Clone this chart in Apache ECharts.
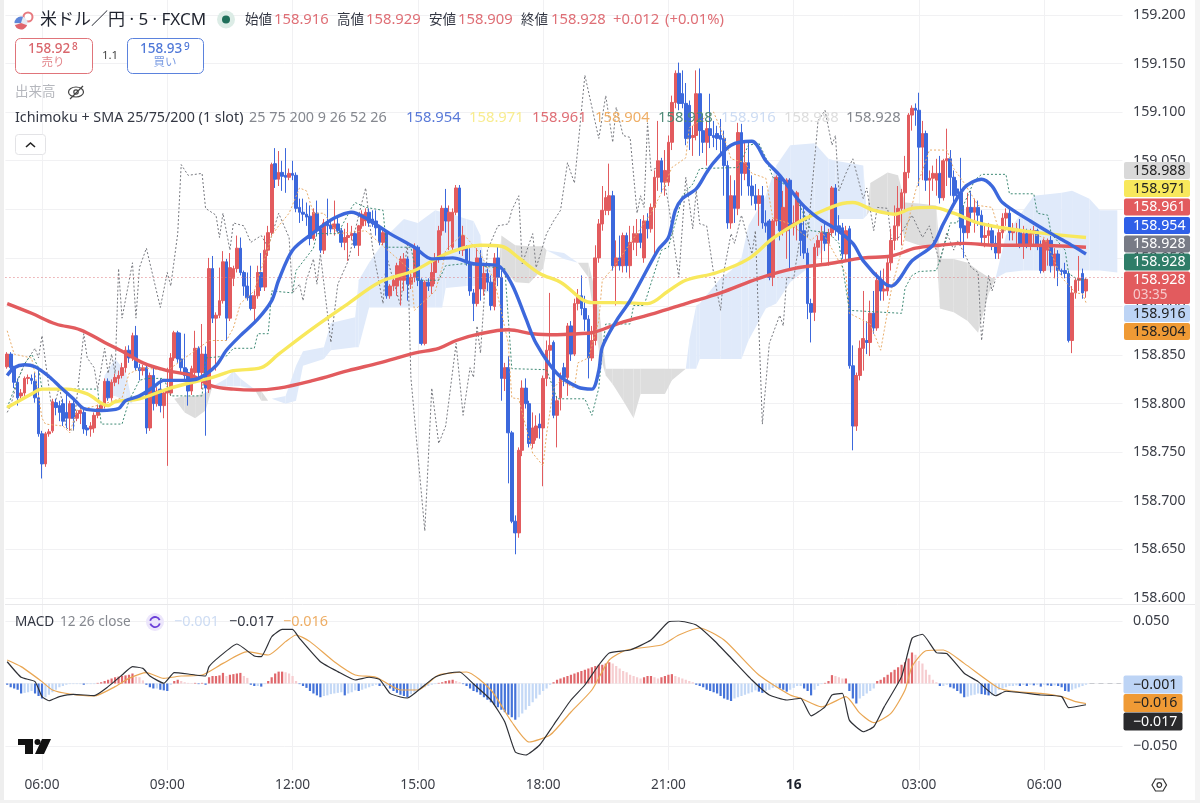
<!DOCTYPE html>
<html>
<head>
<meta charset="utf-8">
<title>米ドル／円</title>
<style>html,body{margin:0;padding:0;background:#fff}#chart_main{width:1200px;height:803px}</style>
<script src="https://cdn.jsdelivr.net/npm/echarts@6/dist/echarts.min.js"></script>
</head>
<body>
<div id="chart_main"></div>
<script>
// 5分足 [open, close, low, high]、3時間ごとのまとまり
let ohlc_0505 = [
[158.838,158.851,158.836,158.853],[158.851,158.837,158.831,158.853],[158.837,158.822,158.816,158.839],[158.822,158.806,158.798,158.826],[158.808,158.811,158.805,158.815],[158.811,158.826,158.808,158.828],[158.826,158.827,158.820,158.830],[158.826,158.824,158.820,158.830],[158.823,158.806,158.801,158.832],[158.806,158.769,158.766,158.836],
[158.769,158.738,158.723,158.772],[158.738,158.769,158.735,158.771],[158.769,158.771,158.766,158.774],[158.772,158.802,158.770,158.805],[158.801,158.796,158.788,158.805],[158.798,158.791,158.782,158.803],[158.800,158.782,158.777,158.805],[158.791,158.785,158.775,158.810],[158.785,158.800,158.772,158.803],[158.800,158.785,158.774,158.803],
[158.785,158.790,158.782,158.793],[158.790,158.793,158.779,158.797],[158.791,158.774,158.769,158.795],[158.775,158.773,158.767,158.778],[158.774,158.777,158.766,158.781],[158.775,158.788,158.770,158.791],[158.788,158.795,158.785,158.799],[158.795,158.798,158.793,158.802],[158.798,158.823,158.795,158.826],[158.823,158.806,158.803,158.826],
[158.806,158.822,158.803,158.825],[158.822,158.827,158.818,158.831],[158.826,158.829,158.820,158.834],[158.829,158.837,158.826,158.842],[158.837,158.855,158.832,158.859],[158.855,158.847,158.842,158.860],[158.847,158.870,158.844,158.873],[158.870,158.837,158.834,158.880],[158.837,158.834,158.824,158.841],[158.834,158.837,158.829,158.840],
[158.837,158.775,158.769,158.839],[158.775,158.829,158.772,158.832],[158.829,158.800,158.793,158.837],[158.800,158.813,158.797,158.817],[158.815,158.798,158.791,158.826],[158.798,158.811,158.785,158.815]];
let ohlc_0900 = [
[158.811,158.815,158.736,158.837],[158.811,158.847,158.808,158.852],[158.847,158.873,158.844,158.875],[158.873,158.846,158.842,158.875],[158.846,158.837,158.832,158.873],[158.837,158.829,158.824,158.872],[158.832,158.813,158.798,158.836],[158.813,158.836,158.809,158.839],[158.832,158.857,158.828,158.875],[158.857,158.832,158.826,158.859],
[158.832,158.851,158.815,158.882],[158.851,158.816,158.767,158.859],[158.815,158.939,158.811,158.950],[158.939,158.888,158.883,158.952],[158.888,158.891,158.834,158.894],[158.891,158.906,158.888,158.940],[158.906,158.946,158.903,158.957],[158.946,158.888,158.865,158.949],[158.888,158.940,158.885,158.955],[158.929,158.939,158.921,158.942],
[158.939,158.960,158.935,158.973],[158.960,158.935,158.932,158.971],[158.935,158.921,158.911,158.937],[158.921,158.909,158.906,158.935],[158.911,158.898,158.896,158.942],[158.898,158.911,158.885,158.916],[158.911,158.935,158.908,158.942],[158.935,158.920,158.916,158.955],[158.920,158.958,158.916,158.973],[158.958,158.976,158.952,158.983],
[158.976,159.046,158.973,159.048],[159.047,159.031,159.022,159.063],[159.031,159.038,159.024,159.060],[159.038,159.034,159.019,159.050],[159.035,159.033,159.017,159.063],[159.033,159.037,159.030,159.042]];
let ohlc_1200 = [
[159.037,159.035,159.030,159.050],[159.035,159.001,158.997,159.038],[159.002,158.997,158.986,159.011],[158.997,158.995,158.988,159.011],[158.995,158.992,158.983,159.007],[158.993,158.970,158.963,159.004],[158.970,158.997,158.968,159.001],[158.996,158.978,158.973,159.009],[158.980,158.958,158.955,158.982],[158.958,158.986,158.954,158.990],
[158.986,158.983,158.973,159.011],[158.984,158.980,158.976,158.990],[158.980,158.985,158.973,159.009],[158.985,158.978,158.976,158.994],[158.978,158.966,158.961,158.981],[158.966,158.971,158.958,158.980],[158.971,158.973,158.947,158.986],[158.973,158.975,158.968,158.983],[158.975,158.963,158.960,158.978],[158.963,158.983,158.952,158.984],
[158.983,158.995,158.980,158.999],[158.988,158.997,158.983,159.001],[158.997,158.986,158.982,159.001],[158.990,158.985,158.982,158.999],[158.988,158.981,158.973,158.999],[158.981,158.966,158.963,158.984],[158.966,158.976,158.963,158.980],[158.976,158.911,158.908,158.978],[158.911,158.921,158.908,158.923],[158.921,158.927,158.916,158.932],
[158.921,158.942,158.911,158.945],[158.927,158.949,158.901,158.952],[158.927,158.949,158.916,158.955],[158.949,158.923,158.906,158.951],[158.923,158.930,158.918,158.937],[158.930,158.961,158.925,158.965]];
let ohlc_1500 = [
[158.961,158.927,158.921,158.963],[158.927,158.862,158.860,158.929],[158.862,158.925,158.860,158.927],[158.925,158.921,158.916,158.929],[158.921,158.935,158.913,158.947],[158.935,158.949,158.923,158.955],[158.949,158.978,158.945,158.983],[158.978,159.001,158.973,159.004],[159.001,158.988,158.976,159.021],[158.988,158.997,158.958,159.004],
[158.961,158.997,158.958,159.001],[158.997,159.022,158.994,159.025],[159.022,158.958,158.954,159.025],[158.958,158.973,158.952,158.983],[158.961,158.945,158.942,158.963],[158.945,158.916,158.911,158.960],[158.914,158.903,158.885,158.918],[158.903,158.950,158.900,158.960],[158.950,158.918,158.906,158.958],[158.918,158.934,158.911,158.942],
[158.934,158.925,158.916,158.939],[158.925,158.901,158.896,158.932],[158.900,158.950,158.896,158.955],[158.950,158.930,158.921,158.963],[158.930,158.826,158.803,158.937],[158.826,158.837,158.813,158.842],[158.837,158.770,158.718,158.849],[158.770,158.679,158.677,158.772],[158.679,158.667,158.645,158.685],[158.667,158.752,158.662,158.755],
[158.752,158.816,158.746,158.824],[158.816,158.800,158.795,158.826],[158.800,158.759,158.755,158.803],[158.759,158.775,158.754,158.791],[158.765,158.777,158.762,158.788],[158.779,158.775,158.764,158.790]];
let ohlc_1800 = [
[158.775,158.826,158.715,158.829],[158.826,158.855,158.818,158.865],[158.855,158.860,158.839,158.914],[158.863,158.788,158.785,158.865],[158.788,158.803,158.755,158.808],[158.806,158.827,158.793,158.832],[158.837,158.827,158.818,158.842],[158.827,158.880,158.808,158.883],[158.880,158.851,158.844,158.885],[158.851,158.903,158.849,158.908],
[158.903,158.911,158.896,158.918],[158.911,158.898,158.891,158.932],[158.898,158.887,158.875,158.911],[158.887,158.847,158.826,158.891],[158.847,158.865,158.844,158.880],[158.865,158.950,158.860,158.963],[158.950,158.985,158.945,158.990],[158.985,158.999,158.978,159.024],[158.999,159.012,158.994,159.019],[158.999,159.014,158.994,159.047],
[159.014,158.942,158.937,159.019],[158.942,158.950,158.901,158.968],[158.950,158.942,158.937,158.973],[158.942,158.973,158.935,158.976],[158.973,158.942,158.935,158.976],[158.942,158.966,158.929,158.983],[158.966,158.975,158.958,158.983],[158.966,158.975,158.952,158.990],[158.975,158.966,158.960,158.990],[158.950,158.988,158.945,158.994],
[158.988,158.980,158.970,158.996],[158.980,159.002,158.976,159.006],[159.002,159.033,158.952,159.040],[159.033,159.050,159.019,159.091],[159.050,159.028,159.017,159.053],[159.028,159.040,159.014,159.061]];
let ohlc_2100 = [
[159.028,159.069,159.024,159.076],[159.069,159.110,159.061,159.117],[159.110,159.140,159.104,159.143],[159.140,159.109,159.102,159.151],[159.119,159.109,159.104,159.143],[159.109,159.073,159.066,159.130],[159.107,159.073,159.061,159.112],[159.074,159.076,159.055,159.086],[159.076,159.119,159.071,159.143],[159.119,159.081,159.055,159.145],
[159.081,159.069,159.058,159.097],[159.069,159.083,159.045,159.091],[159.083,159.076,159.063,159.119],[159.076,159.074,159.064,159.091],[159.078,159.073,159.061,159.086],[159.076,159.072,159.055,159.093],[159.073,159.045,159.014,159.081],[159.045,158.986,158.980,159.050],[158.986,159.014,158.980,159.035],[159.014,159.001,158.986,159.030],
[159.001,159.079,158.994,159.089],[159.079,159.037,159.014,159.088],[159.037,159.048,159.030,159.071],[159.048,159.024,159.014,159.071],[159.024,159.014,159.004,159.035],[159.014,159.006,158.999,159.026],[159.006,159.014,158.983,159.021],[159.014,158.986,158.980,159.024],[158.986,158.983,158.976,158.999],[158.988,158.930,158.927,158.990],
[158.930,158.988,158.921,158.990],[158.988,159.033,158.983,159.035],[159.033,158.978,158.968,159.035],[158.978,159.002,158.973,159.019],[158.978,159.030,158.949,159.032],[159.030,158.983,158.937,159.032]];
let ohlc_0000 = [
[158.983,158.986,158.973,159.004],[158.986,159.017,158.968,159.019],[158.986,158.968,158.952,159.009],[158.978,158.955,158.949,159.004],[158.955,158.903,158.887,158.960],[158.903,158.894,158.863,158.908],[158.894,158.961,158.885,158.965],[158.961,158.968,158.952,158.973],[158.968,158.976,158.945,158.983],[158.976,158.965,158.957,158.986],
[158.965,158.976,158.942,158.980],[158.976,159.022,158.972,159.024],[159.022,158.981,158.973,159.026],[158.983,158.978,158.968,158.994],[158.981,158.954,158.949,158.986],[158.954,158.978,158.947,158.983],[158.980,158.839,158.836,158.983],[158.839,158.777,158.752,158.860],[158.777,158.829,158.772,158.832],[158.829,158.857,158.824,158.865],
[158.857,158.867,158.834,158.916],[158.865,158.863,158.851,158.885],[158.863,158.893,158.849,158.906],[158.893,158.878,158.872,158.916],[158.878,158.927,158.875,158.935],[158.927,158.916,158.906,158.937],[158.916,158.918,158.906,158.939],[158.916,158.945,158.911,158.952],[158.945,158.968,158.937,158.980],[158.968,158.983,158.958,159.004],
[158.983,159.001,158.968,159.024],[159.001,159.017,158.963,159.021],[159.017,159.038,158.999,159.055],[159.038,159.097,159.032,159.099],[159.097,159.104,159.081,159.107],[159.104,159.102,159.086,159.109]];
let ohlc_0300 = [
[159.102,159.064,159.024,159.120],[159.064,159.078,159.030,159.091],[159.078,159.030,159.019,159.081],[159.030,159.032,159.004,159.040],[159.032,159.037,159.019,159.045],[159.030,159.037,159.014,159.052],[159.037,159.012,159.006,159.055],[159.012,159.050,159.009,159.052],[159.050,159.052,159.024,159.083],[159.052,159.033,159.014,159.061],
[159.033,159.014,159.004,159.040],[159.021,159.016,159.009,159.030],[159.017,158.981,158.963,159.053],[158.983,158.976,158.950,159.004],[158.976,159.002,158.970,159.017],[159.002,158.997,158.983,159.019],[158.997,159.002,158.976,159.011],[159.002,158.994,158.983,159.009],[158.994,158.971,158.963,158.999],[158.971,158.973,158.961,158.986],
[158.973,158.978,158.963,158.986],[158.978,158.965,158.958,158.983],[158.965,158.955,158.949,158.973],[158.955,158.976,158.949,158.980],[158.976,158.991,158.970,158.996],[158.991,158.996,158.983,159.001],[158.996,158.976,158.968,159.001],[158.976,158.978,158.968,158.986],[158.978,158.980,158.963,158.986],[158.976,158.963,158.960,158.990],
[158.963,158.975,158.949,158.983],[158.975,158.963,158.960,158.980],[158.963,158.976,158.958,158.980],[158.975,158.978,158.963,158.983],[158.978,158.963,158.958,158.980],[158.963,158.937,158.934,158.968]];
let ohlc_0600 = [
[158.937,158.968,158.935,158.970],[158.958,158.968,158.942,158.970],[158.968,158.942,158.935,158.973],[158.942,158.954,158.929,158.960],[158.954,158.937,158.921,158.958],[158.937,158.936,158.932,158.939],[158.937,158.934,158.929,158.945],[158.934,158.865,158.863,158.937],[158.865,158.914,158.852,158.921],[158.914,158.927,158.908,158.929],
[158.927,158.929,158.916,158.952],[158.934,158.914,158.908,158.939],[158.916,158.928,158.909,158.929]];

// 移動平均 [足番号, 値]
let sma25 = [[0,158.829],[2,158.837],[5,158.840],[8,158.838],[12,158.828],[15,158.818],[19,158.805],[22,158.795],[27,158.793],[32,158.795],[34,158.803],[38,158.808],[42,158.817],[45,158.824],[51,158.824],[55,158.826],[60,158.839],[63,158.855],[67,158.870],[72,158.887],[76,158.906],[78,158.927],[82,158.958],[88,158.976],[94,158.991],[99,158.997],[103,158.991],[110,158.975],[117,158.961],[122,158.949],[128,158.950],[134,158.944],[141,158.942],[145,158.923],[149,158.888],[152,158.862],[158,158.831],[164,158.817],[168,158.815],[170,158.834],[171,158.858],[175,158.885],[179,158.906],[187,158.958],[190,158.971],[192,158.999],[194,159.011],[198,159.021],[201,159.038],[203,159.048],[208,159.066],[214,159.070],[218,159.050],[222,159.035],[228,159.007],[233,158.991],[238,158.980],[243,158.965],[246,158.947],[252,158.924],[254,158.921],[260,158.947],[266,158.963],[269,158.985],[275,159.022],[280,159.031],[283,159.024],[286,159.007],[294,158.988],[300,158.975],[305,158.965],[310,158.954]];
let sma75 = [[0,158.796],[7,158.810],[10,158.815],[17,158.815],[23,158.810],[29,158.798],[31,158.802],[38,158.805],[46,158.815],[52,158.821],[59,158.827],[65,158.834],[73,158.837],[78,158.851],[88,158.878],[98,158.903],[107,158.925],[117,158.937],[126,158.954],[136,158.963],[142,158.962],[147,158.950],[153,158.934],[159,158.925],[168,158.904],[176,158.904],[184,158.903],[190,158.916],[195,158.927],[204,158.935],[213,158.949],[220,158.970],[228,158.988],[236,159.001],[240,159.006],[243,159.007],[249,158.999],[255,158.995],[260,159.001],[266,159.002],[272,158.996],[279,158.986],[286,158.981],[296,158.976],[310,158.971]];
let sma200 = [[0,158.903],[7,158.893],[14,158.882],[21,158.876],[28,158.863],[34,158.852],[39,158.842],[46,158.834],[53,158.829],[59,158.818],[65,158.815],[71,158.814],[78,158.816],[88,158.824],[98,158.834],[107,158.842],[117,158.852],[124,158.857],[129,158.865],[136,158.872],[144,158.876],[151,158.872],[158,158.871],[164,158.872],[168,158.873],[176,158.883],[186,158.893],[195,158.903],[205,158.914],[216,158.929],[226,158.939],[236,158.944],[246,158.950],[254,158.952],[261,158.960],[268,158.963],[275,158.965],[284,158.963],[294,158.963],[310,158.961]];

// 一目均衡表
let chikou = [[0,158.791],[1,158.798],[3,158.824],[5,158.841],[8,158.857],[9,158.847],[10,158.870],[13,158.790],[15,158.818],[17,158.775],[19,158.772],[22,158.872],[23,158.847],[25,158.837],[26,158.815],[28,158.857],[29,158.831],[30,158.851],[31,158.831],[32,158.939],[33,158.888],[36,158.945],[37,158.888],[38,158.940],[40,158.960],[44,158.899],[46,158.935],[47,158.921],[49,158.975],[50,159.046],[52,159.035],[56,159.037],[57,159.001],[60,158.994],[61,158.971],[62,158.996],[64,158.958],[65,158.986],[68,158.983],[70,158.966],[73,158.973],[75,158.961],[78,158.996],[81,158.971],[82,158.914],[84,158.923],[85,158.906],[86,158.927],[88,158.949],[89,158.923],[90,158.954],[93,158.863],[95,158.923],[98,158.947],[101,158.994],[103,159.022],[105,158.960],[108,158.903],[109,158.952],[113,158.901],[115,158.966],[116,158.827],[120,158.669],[122,158.816],[124,158.759],[126,158.777],[129,158.862],[131,158.788],[133,158.837],[134,158.827],[135,158.880],[136,158.852],[138,158.958],[141,158.983],[144,158.985],[145,158.999],[147,159.014],[148,158.944],[151,158.975],[152,158.940],[155,158.975],[157,158.988],[159,158.999],[161,159.048],[163,159.027],[166,159.138],[170,159.073],[172,159.117],[174,159.069],[175,159.105],[177,159.076],[179,159.074],[181,158.996],[182,159.014],[183,159.002],[184,159.089],[185,159.040],[188,159.045],[190,159.006],[193,158.930],[195,159.033],[197,158.980],[198,159.019],[199,158.985],[201,158.983],[203,158.934],[205,158.896],[206,158.937],[208,158.975],[209,158.965],[211,158.994],[214,158.954],[215,158.978],[217,158.779],[219,158.862],[222,158.891],[223,158.880],[224,158.930],[226,158.929],[229,158.999],[230,158.971],[233,159.091],[235,159.102],[237,159.066],[238,159.076],[239,159.019],[241,159.037],[243,159.052],[246,159.011],[247,159.022],[249,158.978],[250,159.002],[253,159.001],[254,158.970],[256,158.970],[260,158.994],[263,158.971],[265,158.983],[268,158.945],[270,158.976],[272,158.958],[273,158.968],[275,158.955],[277,158.940],[279,158.935],[280,158.865],[282,158.932],[283,158.916],[284,158.928]];
let tenkan = [[0,158.875],[2,158.851],[7,158.847],[8,158.831],[10,158.785],[11,158.779],[16,158.777],[18,158.770],[20,158.793],[28,158.800],[33,158.806],[35,158.831],[39,158.837],[46,158.834],[58,158.865],[63,158.865],[65,158.878],[67,158.903],[71,158.916],[75,158.961],[76,158.973],[78,158.983],[81,158.996],[84,159.022],[86,159.019],[88,158.996],[91,158.996],[95,158.975],[103,158.978],[116,158.937],[117,158.896],[123,158.916],[125,158.940],[126,158.958],[131,158.975],[136,158.954],[140,158.927],[144,158.862],[145,158.806],[147,158.805],[151,158.749],[154,158.736],[155,158.769],[157,158.816],[159,158.824],[163,158.816],[164,158.842],[167,158.847],[170,158.885],[171,158.927],[174,158.939],[185,158.996],[188,159.017],[191,159.043],[195,159.053],[196,159.084],[203,159.100],[206,159.074],[208,159.052],[212,159.048],[214,159.037],[218,159.032],[220,158.991],[225,158.985],[231,158.968],[234,158.978],[241,158.934],[242,158.893],[248,158.882],[251,158.855],[252,158.875],[254,158.916],[257,158.958],[261,159.019],[265,159.061],[270,159.061],[272,159.042],[275,159.027],[279,159.004],[283,159.002],[285,158.978],[288,158.978],[294,158.975],[298,158.971],[303,158.930],[307,158.914],[309,158.913],[310,158.904]];
let kijun = [[0,158.796],[3,158.824],[5,158.841],[7,158.851],[9,158.837],[10,158.815],[26,158.815],[27,158.779],[33,158.779],[35,158.803],[38,158.824],[40,158.826],[45,158.826],[47,158.808],[56,158.808],[57,158.847],[63,158.849],[65,158.857],[71,158.857],[72,158.872],[75,158.872],[76,158.916],[82,158.914],[83,158.937],[88,158.960],[89,158.975],[95,158.975],[99,159.002],[100,159.007],[103,159.002],[108,158.999],[109,158.961],[116,158.961],[118,158.927],[124,158.927],[126,158.942],[131,158.944],[143,158.939],[145,158.836],[155,158.835],[158,158.805],[166,158.805],[168,158.788],[170,158.816],[171,158.855],[172,158.882],[179,158.882],[180,158.901],[183,158.901],[188,158.958],[190,158.961],[193,158.999],[194,159.014],[197,159.026],[199,159.042],[210,159.043],[213,159.066],[216,159.068],[218,159.053],[220,159.033],[225,159.022],[228,159.002],[231,158.978],[236,158.976],[239,158.965],[242,158.896],[257,158.893],[258,158.919],[260,158.932],[262,158.936],[267,158.937],[270,158.971],[271,158.986],[273,158.986],[275,159.006],[278,159.030],[280,159.036],[287,159.036],[288,159.016],[295,159.016],[296,158.996],[299,158.994],[300,158.975],[304,158.958],[305,158.934],[308,158.927],[310,158.928]];

// 雲 [足番号, 先行A, 先行B]
let cloud = [[27,158.798,158.798],[28,158.829,158.808],[31,158.846,158.808],[34,158.834,158.803],[36,158.800,158.800],[48,158.805,158.805],[51,158.791,158.808],[54,158.785,158.808],[57,158.793,158.811],[59,158.818,158.818],[63,158.826,158.818],[65,158.834,158.818],[67,158.826,158.818],[71,158.815,158.815],[73,158.803,158.813],[75,158.803,158.803],[76,158.805,158.805],[80,158.808,158.800],[83,158.839,158.803],[85,158.854,158.839],[91,158.858,158.846],[93,158.883,158.855],[100,158.889,158.858],[101,158.927,158.858],[104,158.945,158.899],[110,158.976,158.899],[114,158.990,158.899],[118,158.986,158.899],[123,158.999,158.899],[125,158.997,158.899],[126,158.997,158.919],[132,158.990,158.921],[134,158.988,158.921],[136,158.973,158.921],[137,158.945,158.914],[140,158.942,158.916],[141,158.932,158.932],[142,158.942,158.973],[146,158.925,158.963],[150,158.924,158.962],[154,158.939,158.962],[155,158.958,158.958],[160,158.955,158.949],[164,158.945,158.945],[167,158.930,158.945],[170,158.855,158.901],[172,158.829,158.836],[174,158.820,158.836],[177,158.803,158.836],[180,158.785,158.836],[182,158.810,158.836],[189,158.810,158.836],[191,158.824,158.836],[195,158.836,158.836],[196,158.865,158.836],[198,158.901,158.836],[199,158.903,158.846],[205,158.929,158.846],[208,158.937,158.846],[211,158.950,158.846],[213,158.983,158.865],[218,159.014,158.898],[221,159.045,158.903],[225,159.066,158.925],[232,159.068,158.945],[236,159.052,158.968],[238,159.050,158.990],[246,159.045,158.990],[247,158.994,158.994],[248,158.999,159.027],[253,158.996,159.038],[256,158.996,159.035],[258,158.968,159.007],[262,158.963,159.006],[267,158.963,159.004],[268,158.898,158.949],[272,158.894,158.949],[276,158.885,158.945],[279,158.873,158.937],[282,158.913,158.930],[284,158.929,158.929],[287,158.973,158.935],[292,158.999,158.937],[295,159.014,158.937],[303,159.017,158.937],[306,159.019,158.937],[311,159.011,158.937],[314,158.999,158.937],[319,158.999,158.935]];

// MACD
let macdLine = [[0,0.0174],[4,0.005],[8,0.0015],[10,-0.0105],[12,-0.0138],[15,-0.0105],[19,-0.0087],[25,-0.0097],[29,-0.0025],[33,0.0068],[36,0.0135],[39,0.0121],[41,0.006],[45,0.0002],[48,0.0087],[52,0.0076],[54,0.0068],[57,0.006],[58,0.0135],[61,0.0215],[66,0.0316],[71,0.022],[73,0.0215],[76,0.0374],[79,0.0433],[82,0.0433],[84,0.0361],[90,0.0174],[95,0.0095],[100,0.0028],[104,0.005],[107,0.0033],[110,-0.0079],[113,-0.0108],[115,-0.0116],[120,-0.0012],[123,0.0052],[127,0.0084],[130,0.0092],[134,-0.0004],[139,-0.0132],[143,-0.0308],[146,-0.0548],[149,-0.0572],[153,-0.0492],[157,-0.0332],[162,-0.0132],[166,-0.0012],[170,0.0148],[173,0.0244],[179,0.0268],[185,0.0348],[190,0.0492],[193,0.05],[198,0.0468],[203,0.0348],[208,0.0204],[214,0.0028],[219,-0.0092],[224,-0.0132],[228,-0.0118],[231,-0.0259],[235,-0.0187],[237,-0.0092],[240,-0.0079],[242,-0.0293],[246,-0.0386],[249,-0.0346],[252,-0.0187],[257,0.0055],[260,0.0361],[263,0.0394],[267,0.0247],[270,0.024],[275,0.0082],[279,0.0015],[284,-0.0098],[287,-0.0062],[297,-0.0092],[303,-0.0105],[305,-0.0193],[310,-0.017]];
let macdSignal = [[0,0.0188],[4,0.0135],[10,0.0015],[13,-0.0052],[18,-0.0084],[25,-0.01],[31,-0.0025],[35,0.0041],[40,0.0087],[45,0.0041],[50,0.006],[56,0.0068],[62,0.0161],[69,0.0255],[75,0.0228],[80,0.0335],[83,0.0388],[87,0.0335],[94,0.0174],[100,0.0068],[106,0.005],[113,-0.0052],[118,-0.0052],[124,0.0068],[132,0.0092],[139,-0.0052],[145,-0.0308],[150,-0.0468],[156,-0.0412],[162,-0.0228],[168,-0.0052],[173,0.0188],[178,0.0268],[188,0.0308],[193,0.0388],[199,0.0444],[206,0.0348],[216,0.0068],[225,-0.0092],[228,-0.0118],[234,-0.0187],[237,-0.0155],[241,-0.0105],[245,-0.0237],[249,-0.0313],[254,-0.0237],[258,-0.0052],[260,0.0135],[264,0.0262],[269,0.0268],[275,0.0161],[285,-0.0038],[290,-0.0065],[297,-0.0079],[303,-0.0105],[307,-0.0145],[310,-0.016]];
let macdHist = [-0.001,-0.003,-0.004,-0.005,-0.008,-0.0075,-0.007,-0.006,-0.008,-0.01,
-0.012,-0.011,-0.009,-0.007,-0.005,-0.003,-0.002,-0.001,-0.0005,-0.0005,
-0.0005,-0.0005,-0.001,-0.0005,-0.0005,-0.0005,
0.0005,0.001,0.002,0.003,0.004,0.005,0.0055,0.006,0.0065,0.007,0.008,0.0055,0.005,0.0025,
-0.001,-0.003,-0.004,-0.004,-0.005,-0.0055,-0.006,-0.001,
0.002,0.003,0.002,0.001,0.0005,0.0003,0.0005,-0.0005,0.0005,-0.001,
0.005,0.006,0.006,0.0065,0.0085,0.006,0.007,0.0075,0.008,0.0085,0.006,0.0045,
-0.001,-0.002,-0.002,-0.0025,-0.0005,
0.002,0.005,0.008,0.0095,0.0095,0.009,0.008,0.006,0.002,
-0.0005,-0.002,-0.0035,-0.006,-0.008,-0.0095,-0.011,-0.01,-0.0095,-0.0085,-0.008,-0.0075,-0.007,
-0.0095,-0.008,-0.007,-0.0055,-0.006,-0.005,-0.004,-0.003,-0.002,-0.001,-0.002,-0.002,-0.002,-0.004,-0.006,-0.0075,-0.009,
-0.01,-0.011,-0.0085,-0.007,-0.0055,-0.004,-0.003,-0.002,-0.001,-0.0005,0.0005,0.001,0.002,0.0025,0.003,0.002,0.001,
-0.0005,-0.002,-0.004,-0.006,-0.007,-0.009,-0.011,-0.013,-0.015,-0.017,-0.019,-0.021,-0.023,-0.025,-0.027,-0.029,
-0.027,-0.024,-0.021,-0.018,-0.015,-0.012,-0.009,-0.006,-0.004,-0.001,
0.001,0.003,0.004,0.005,0.006,0.007,0.008,0.009,0.01,0.011,0.012,0.013,0.014,0.015,0.015,0.016,0.017,
0.016,0.014,0.012,0.01,0.009,0.007,0.006,0.005,0.004,0.005,0.006,0.006,0.005,0.004,0.005,0.006,0.007,0.0075,
0.006,0.005,0.004,0.003,0.002,0.001,
-0.001,-0.002,-0.003,-0.005,-0.006,-0.007,-0.008,-0.01,-0.012,-0.013,-0.014,-0.012,-0.011,-0.01,-0.009,-0.008,-0.007,-0.0055,-0.0065,-0.0075,
-0.006,-0.005,-0.0035,-0.003,-0.004,-0.005,-0.0065,-0.005,-0.0035,-0.002,
-0.002,-0.004,-0.006,-0.0095,-0.005,-0.002,-0.0005,0.0005,0.002,0.0067,0.006,0.005,0.004,0.004,
-0.006,-0.012,-0.016,-0.012,-0.01,-0.008,-0.006,-0.004,
0.002,0.003,0.005,0.007,0.009,0.011,0.013,0.015,0.017,0.02,0.0248,0.023,0.018,0.016,0.011,0.007,0.003,0.001,
-0.002,-0.002,-0.001,-0.003,-0.004,-0.006,-0.008,-0.011,-0.0105,-0.0095,-0.009,-0.008,-0.0085,-0.009,-0.0095,-0.0095,-0.009,
-0.005,-0.004,-0.003,-0.002,-0.002,-0.0015,-0.002,-0.0012,-0.002,-0.001,-0.0015,-0.001,-0.0025,-0.001,-0.0015,-0.002,-0.0015,-0.002,-0.003,-0.006,-0.0065,-0.005,-0.004,-0.003,-0.002,-0.001];

// 軸
let tick_bars = [10, 46, 82, 118, 154, 190, 226, 262, 298];
let tick_labels = ["06:00", "09:00", "12:00", "15:00", "18:00", "21:00", "16", "03:00", "06:00"];
let bar_count = 321;
let last_price = 158.928;

// 右端のタグ
let price_tags = ["158.988", "158.971", "158.961", "158.954", "158.928", "158.928", "158.928", "158.916", "158.904"];
let macd_tags = ["\u22120.001", "\u22120.016", "\u22120.017"];
let legend_values = ["158.954", "158.971", "158.961", "158.904", "158.928", "158.916", "158.988", "158.928"];

const RED = "#e25b5e", BLUE = "#3c68dc", LIGHT_BLUE = "#bdd4f5", YELLOW = "#f8e85c", ORANGE = "#ef9a35", GREEN = "#2f7d68";
const FONT = '"Noto Sans", "Noto Sans CJK JP", sans-serif';

function makeText(x, y, text, fill, size, align, weight) {
    return {
        type: "text", z: 100, silent: true,
        style: {
            x: x, y: y, text: text, fill: fill, align: align || "left", verticalAlign: "middle",
            font: (weight || "normal") + " " + size + "px " + FONT
        }
    };
}

function makeRect(x, y, w, h, fill, stroke, r) {
    return {
        type: "rect", z: 99, silent: true,
        shape: {x: x, y: y, width: w, height: h, r: r || 0},
        style: {fill: fill || "none", stroke: stroke || "none", lineWidth: 1}
    };
}

function buildHeader() {
    let g = [];
    g.push(makeRect(0, 0, 4, 803, "#eeeeee"));
    g.push(makeRect(1195, 0, 5, 803, "#f4f4f4"));
    g.push(makeRect(0, 800, 1200, 3, "#f2f2f2"));
    // 旗
    g.push({type: "circle", z: 100, silent: true, shape: {cx: 28, cy: 17, r: 4.5}, style: {fill: "#fff", stroke: "#e77b80", lineWidth: 2}});
    g.push({type: "circle", z: 100, silent: true, shape: {cx: 21, cy: 23, r: 6.5}, style: {fill: "#e6eaf2"}});
    g.push({type: "sector", z: 101, silent: true, shape: {cx: 21, cy: 23, r: 6.5, r0: 0, startAngle: 0.35, endAngle: Math.PI - 0.35}, style: {fill: "#e0646c"}});
    g.push({type: "sector", z: 101, silent: true, shape: {cx: 21, cy: 23, r: 6.5, r0: 0, startAngle: Math.PI, endAngle: Math.PI * 1.6}, style: {fill: "#5f86d8"}});
    g.push(makeText(40, 20, "米ドル／円 · 5 · FXCM", "#1e222d", 17));
    g.push({type: "circle", z: 100, silent: true, shape: {cx: 226, cy: 19.5, r: 9}, style: {fill: "#dcece6"}});
    g.push({type: "circle", z: 101, silent: true, shape: {cx: 226, cy: 19.5, r: 4}, style: {fill: "#1f6f5a"}});
    let head = [[245, "始値", 0], [274, "158.916", 1], [337, "高値", 0], [366, "158.929", 1], [429, "安値", 0], [458, "158.909", 1], [521, "終値", 0], [551, "158.928", 1], [613, "+0.012", 1], [665, "(+0.01%)", 1]];
    head.forEach(function (h) {
        g.push(makeText(h[0], 20, h[1], h[2] ? "#df6f76" : "#333743", h[2] ? 14.8 : 13.5));
    });
    // 売り／買い
    g.push(makeRect(15.5, 38.5, 77, 35, "#fff", "#e0747a", 5));
    g.push(makeText(28, 49, "158.92", "#d9666c", 13.5, "left", 500));
    g.push(makeText(72, 47.5, "8", "#d9666c", 10, "left", 500));
    g.push(makeText(53, 63, "売り", "#e3878c", 11.5, "center"));
    g.push(makeText(110, 56, "1.1", "#444", 11.5, "center"));
    g.push(makeRect(127.5, 38.5, 76, 35, "#fff", "#5b82dd", 5));
    g.push(makeText(140, 49, "158.93", "#4f78d8", 13.5, "left", 500));
    g.push(makeText(184, 47.5, "9", "#4f78d8", 10, "left", 500));
    g.push(makeText(165, 63, "買い", "#7b9ce3", 11.5, "center"));
    g.push(makeText(15, 92, "出来高", "#b5b7bd", 13.5));
    g.push({type: "ellipse", z: 100, silent: true, shape: {cx: 76, cy: 92, rx: 7.5, ry: 5}, style: {fill: "none", stroke: "#444", lineWidth: 1.2}});
    g.push({type: "circle", z: 100, silent: true, shape: {cx: 76, cy: 92, r: 2.2}, style: {fill: "none", stroke: "#444", lineWidth: 1.2}});
    g.push({type: "line", z: 100, silent: true, shape: {x1: 70, y1: 99, x2: 83, y2: 86}, style: {stroke: "#444", lineWidth: 1.2}});
    g.push(makeText(15, 118, "Ichimoku + SMA 25/75/200 (1 slot)", "#333743", 14.3));
    g.push(makeText(249, 118, "25 75 200 9 26 52 26", "#85888f", 14.4));
    let legend_x = [406, 469, 532, 595, 658, 721, 784, 846];
    let legend_col = ["#5a7ad8", "#f8ec90", "#df6f76", "#eeae66", "#4f8a77", "#cddcf3", "#dddddd", "#85888f"];
    legend_values.forEach(function (v, i) {
        g.push(makeText(legend_x[i], 118, v, legend_col[i], 14.8));
    });
    g.push(makeRect(15.5, 134.5, 30, 20, "#fff", "#e3e3e6", 3));
    g.push({type: "polyline", z: 100, silent: true, shape: {points: [[26, 147], [30.5, 143], [35, 147]]}, style: {fill: "none", stroke: "#222", lineWidth: 1.6}});
    // MACD 凡例
    g.push({type: "line", z: 3, silent: true, shape: {x1: 5, y1: 604.5, x2: 1195, y2: 604.5}, style: {stroke: "#e8e8ea", lineWidth: 1}});
    g.push(makeText(15, 622, "MACD", "#333743", 13.6));
    g.push(makeText(60, 622, "12 26 close", "#85888f", 13.6));
    g.push({type: "circle", z: 100, silent: true, shape: {cx: 155, cy: 622, r: 9}, style: {fill: "#ece6fb"}});
    g.push({type: "arc", z: 101, silent: true, shape: {cx: 155, cy: 622, r: 5, startAngle: 0.3, endAngle: 2.8}, style: {fill: "none", stroke: "#6a3fd8", lineWidth: 1.8}});
    g.push({type: "arc", z: 101, silent: true, shape: {cx: 155, cy: 622, r: 5, startAngle: 3.4, endAngle: 5.9}, style: {fill: "none", stroke: "#6a3fd8", lineWidth: 1.8}});
    g.push(makeText(174, 622, "\u22120.001", "#cddcf3", 14.4));
    g.push(makeText(229, 622, "\u22120.017", "#333743", 14.4));
    g.push(makeText(283, 622, "\u22120.016", "#eeae66", 14.4));
    // TradingView のロゴ
    g.push({type: "polygon", z: 100, silent: true, shape: {points: [[18, 739], [33, 739], [33, 754], [25, 754], [25, 745], [18, 745]]}, style: {fill: "#111"}});
    g.push({type: "circle", z: 100, silent: true, shape: {cx: 37.5, cy: 742, r: 3}, style: {fill: "#111"}});
    g.push({type: "polygon", z: 100, silent: true, shape: {points: [[42, 739], [51, 739], [44, 754], [35, 754]]}, style: {fill: "#111"}});
    // 設定アイコン
    g.push({type: "polygon", z: 100, silent: true, shape: {points: [[1152, 785], [1155.5, 779], [1163, 779], [1166.5, 785], [1163, 791], [1155.5, 791]]}, style: {fill: "none", stroke: "#333", lineWidth: 1.2}});
    g.push({type: "circle", z: 100, silent: true, shape: {cx: 1159.3, cy: 785, r: 2.3}, style: {fill: "none", stroke: "#333", lineWidth: 1.2}});
    return g;
}

function buildTags() {
    let g = [];
    let tag_y = [162, 180, 198.5, 217, 235.5, 253.5, 271.5, 305, 323];
    let tag_h = [17, 17, 17, 17, 17, 17, 32.5, 17, 17];
    let tag_bg = ["#d9d9d9", YELLOW, RED, "#2f5fe8", "#787b86", GREEN, RED, LIGHT_BLUE, ORANGE];
    let tag_fg = ["#222", "#222", "#fff", "#fff", "#fff", "#fff", "#fff", "#222", "#222"];
    price_tags.forEach(function (v, i) {
        g.push(makeRect(1124, tag_y[i], 66, tag_h[i], tag_bg[i], null, 2));
        g.push(makeText(1133, tag_y[i] + 8.8, v, tag_fg[i], 14.2));
    });
    g.push(makeText(1133, 295, "03:35", "#f6c9cb", 13.5));
    let m_y = [675.5, 694, 712.5];
    let m_bg = [LIGHT_BLUE, ORANGE, "#2a2a2c"];
    let m_fg = ["#222", "#222", "#fff"];
    macd_tags.forEach(function (v, i) {
        g.push(makeRect(1123.5, m_y[i], 59, 18, m_bg[i], null, 2));
        g.push(makeText(1133, m_y[i] + 9.3, v, m_fg[i], 14.2));
    });
    return g;
}

// 雲を足と足の間の四角形に分けて描く
function renderCloud(params, api) {
    let p0 = api.coord([api.value(0), api.value(1)]);
    let p1 = api.coord([api.value(3), api.value(4)]);
    let p2 = api.coord([api.value(3), api.value(5)]);
    let p3 = api.coord([api.value(0), api.value(2)]);
    let sum = api.value(1) - api.value(2) + api.value(4) - api.value(5);
    return {
        type: "polygon",
        shape: {points: [p0, p1, p2, p3]},
        style: {fill: sum >= 0 ? "#e0eafa" : "#dddddd", stroke: "none"}
    };
}

function histColor(params) {
    let v = macdHist[params.dataIndex];
    let prev = params.dataIndex > 0 ? macdHist[params.dataIndex - 1] : 0;
    if (v >= 0) {
        return v >= prev ? "#e0686c" : "#f6cdd0";
    }
    return v < prev ? "#4473d9" : "#c3d8f6";
}

function lineSeries(name, data, color, width, xIndex, yIndex, extra) {
    return Object.assign({
        name: name, type: "line", data: data, xAxisIndex: xIndex, yAxisIndex: yIndex,
        showSymbol: false, symbol: "none", silent: true, z: 5,
        lineStyle: {color: color, width: width}
    }, extra || {});
}

let candles = ohlc_0505.concat(ohlc_0900, ohlc_1200, ohlc_1500, ohlc_1800, ohlc_2100, ohlc_0000, ohlc_0300, ohlc_0600);
let categories = [];
for (let i = 0; i < bar_count; i++) {
    categories.push(String(i));
}
let cloud_rows = [];
for (let i = 0; i + 1 < cloud.length; i++) {
    cloud_rows.push(cloud[i].concat(cloud[i + 1]));
}

function isTick(index) {
    return tick_bars.indexOf(index) >= 0;
}

let myChart = echarts.init(document.getElementById("chart_main"), null, {renderer: "canvas"});
let grid_left = 5.46, grid_width = 1117.08;
let option = {
    animation: false,
    backgroundColor: "#ffffff",
    textStyle: {fontFamily: FONT},
    grid: [
        {left: grid_left, width: grid_width, top: 15, height: 583, outerBoundsMode: "none"},
        {left: grid_left, width: grid_width, top: 621, height: 187.5, outerBoundsMode: "none"},
        {left: grid_left, width: grid_width, top: 0, height: 770, outerBoundsMode: "none"}
    ],
    xAxis: [
        {type: "category", gridIndex: 0, data: categories, show: false},
        {type: "category", gridIndex: 1, data: categories, show: false},
        {
            type: "category", gridIndex: 2, data: categories,
            axisLine: {show: false}, axisTick: {show: false},
            splitLine: {show: true, interval: function (i) { return isTick(i); }, alignWithLabel: true, lineStyle: {color: "#f1f1f3", width: 1}},
            axisLabel: {
                show: true, margin: 8, interval: function (i) { return isTick(i); }, color: "#3b3e47", fontSize: 13.7,
                formatter: function (value) {
                    let label = tick_labels[tick_bars.indexOf(Number(value))];
                    return label === "16" ? "{b|16}" : label;
                },
                rich: {b: {fontWeight: "bold", fontSize: 13.7, color: "#1e222d"}}
            }
        }
    ],
    yAxis: [
        {
            type: "value", gridIndex: 0, position: "right", min: 158.6, max: 159.2, interval: 0.05, scale: true,
            axisLine: {show: false}, axisTick: {show: false},
            splitLine: {lineStyle: {color: "#f1f1f3", width: 1}},
            axisLabel: {color: "#3b3e47", fontSize: 14.2, margin: 10.5, formatter: function (v) { return v.toFixed(3); }}
        },
        {
            type: "value", gridIndex: 1, position: "right", min: -0.1, max: 0.05, interval: 0.05,
            axisLine: {show: false}, axisTick: {show: false},
            splitLine: {lineStyle: {color: "#f1f1f3", width: 1}},
            axisLabel: {
                color: "#3b3e47", fontSize: 14.2, margin: 10.5,
                formatter: function (v) {
                    if (v < -0.06 || Math.abs(v) < 0.001) {
                        return "";
                    }
                    return v.toFixed(3).replace("-", "\u2212");
                }
            }
        },
        {type: "value", gridIndex: 2, min: 0, max: 1, show: false}
    ],
    graphic: {elements: buildHeader().concat(buildTags())},
    series: [
        {
            name: "cloud", type: "custom", xAxisIndex: 0, yAxisIndex: 0, z: 1, silent: true,
            renderItem: renderCloud, data: cloud_rows, encode: {x: 0, y: 1}
        },
        lineSeries("chikou", chikou, "#77797f", 1, 0, 0, {z: 2, lineStyle: {color: "#77797f", width: 1, type: [2, 2]}}),
        {
            name: "candles", type: "candlestick", xAxisIndex: 0, yAxisIndex: 0, z: 3, silent: true,
            barWidth: 3.2, data: candles,
            itemStyle: {color: RED, color0: BLUE, borderColor: RED, borderColor0: BLUE, borderWidth: 1},
            markLine: {
                silent: true, symbol: "none", label: {show: false}, animation: false,
                lineStyle: {color: "#df7a7f", type: [1, 3], width: 1},
                data: [{yAxis: last_price}]
            }
        },
        lineSeries("tenkan", tenkan, ORANGE, 1, 0, 0, {z: 4, lineStyle: {color: "#e9ad6a", width: 1, type: [2, 2]}}),
        lineSeries("kijun", kijun, GREEN, 1, 0, 0, {z: 4, lineStyle: {color: "#3f8a75", width: 1, type: [2, 2]}}),
        lineSeries("SMA200", sma200, RED, 3.4, 0, 0, {smooth: 0.35, z: 6}),
        lineSeries("SMA75", sma75, YELLOW, 3.4, 0, 0, {smooth: 0.35, z: 6}),
        lineSeries("SMA25", sma25, BLUE, 3.4, 0, 0, {smooth: 0.3, z: 7}),
        {
            name: "hist", type: "bar", xAxisIndex: 1, yAxisIndex: 1, barWidth: 2.2, silent: true, z: 2,
            data: macdHist, itemStyle: {color: histColor},
            markLine: {
                silent: true, symbol: "none", label: {show: false}, animation: false,
                lineStyle: {color: "#c9cbd0", type: [5, 4], width: 1},
                data: [[{coord: [311, 0]}, {coord: [320, 0]}]]
            }
        },
        lineSeries("signal", macdSignal, "#e9a653", 1.2, 1, 1, {smooth: 0.2}),
        lineSeries("macd", macdLine, "#2e3036", 1.2, 1, 1, {smooth: 0.15})
    ]
};
myChart.setOption(option);
</script>
</body>
</html>
